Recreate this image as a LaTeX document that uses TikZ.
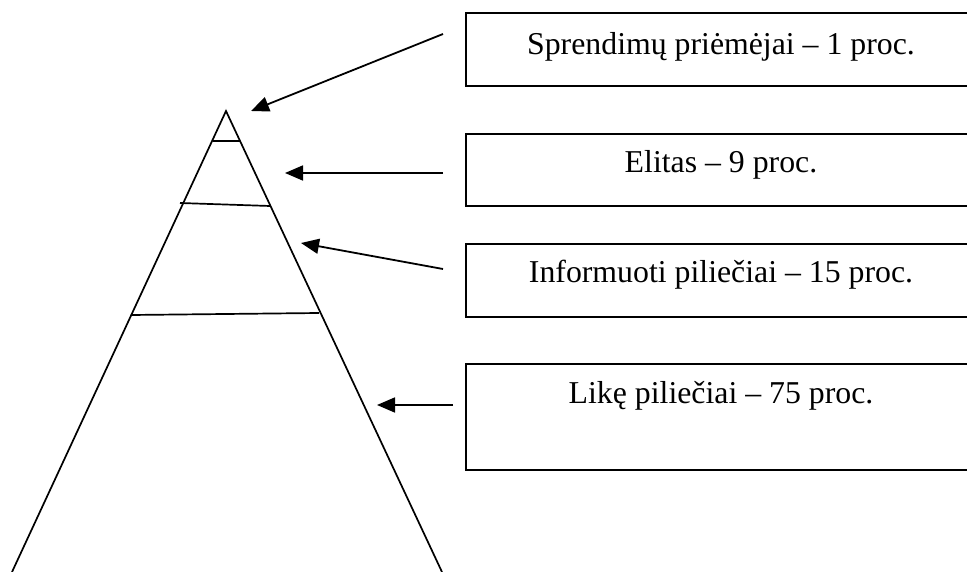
\documentclass[tikz,border=0pt]{standalone}
\usepackage{fontspec}
\setmainfont{Liberation Serif}
\usetikzlibrary{arrows.meta}
\begin{document}
\begin{tikzpicture}[x=1pt,y=-1pt,
  panel/.style={draw, line width=2pt, rectangle, anchor=north west,
    inner sep=0pt, minimum width=540pt},
  caption/.style={anchor=base, font=\fontsize{31.8}{38}\selectfont, inner sep=0pt},
  pointer/.style={-{Triangle[length=18pt,width=15pt]}, line width=1.8pt},
  edge/.style={line width=1.7pt}]
\clip (0,0) rectangle (967,572);
\useasboundingbox (0,0) rectangle (967,572);

% pyramid outline
\coordinate (apex) at (226,111);
\coordinate (bl) at (12,572);
\coordinate (br) at (442,572);
\draw[edge] (bl) -- (apex) -- (br);

% tier divisions
\coordinate (t1l) at (213,141);  \coordinate (t1r) at (240,141);
\coordinate (t2l) at (180,203);  \coordinate (t2r) at (270,206);
\coordinate (t3l) at (131,315);  \coordinate (t3r) at (319,313);
\draw[edge] (t1l) -- (t1r);
\draw[edge] (t2l) -- (t2r);
\draw[edge] (t3l) -- (t3r);

% label boxes
\node[panel, minimum height=73pt] (b1) at (465,12) {};
\node[panel, minimum height=72pt] (b2) at (465,133) {};
\node[panel, minimum height=73pt] (b3) at (465,243) {};
\node[panel, minimum height=106pt] (b4) at (465,363) {};

\node[caption] (l1) at (721,55) {Sprendimų priėmėjai – 1 proc.};
\node[caption] (l2) at (721,173) {Elitas – 9 proc.};
\node[caption] (l3) at (721,283) {Informuoti piliečiai – 15 proc.};
\node[caption] (l4) at (721,403) {Likę piliečiai – 75 proc.};

% pointers from the boxes to the tiers
\coordinate (s1) at (443,34);   \coordinate (e1) at (251,111);
\coordinate (s2) at (443,173);  \coordinate (e2) at (285,173);
\coordinate (s3) at (443,269);  \coordinate (e3) at (301,243);
\coordinate (s4) at (453,405);  \coordinate (e4) at (377,405);
\draw[pointer] (s1) -- (e1);
\draw[pointer] (s2) -- (e2);
\draw[pointer] (s3) -- (e3);
\draw[pointer] (s4) -- (e4);
\end{tikzpicture}
\end{document}
